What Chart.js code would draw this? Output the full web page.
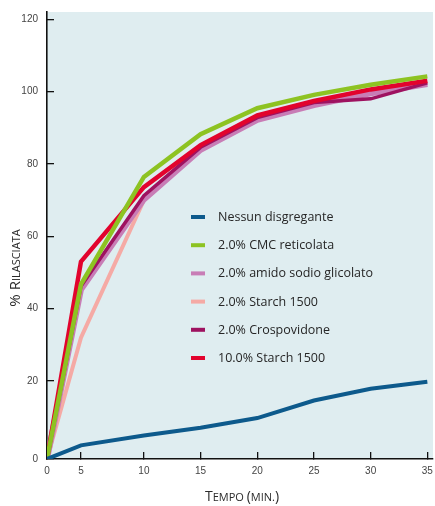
<!DOCTYPE html>
<html>
<head>
<meta charset="utf-8">
<script src="https://cdn.jsdelivr.net/npm/chart.js@4.4.0/dist/chart.umd.min.js"></script>
<style>
  html, body { margin: 0; padding: 0; background: #fff; }
  #wrap { width: 435px; height: 506px; }
</style>
</head>
<body>
<div id="wrap"><canvas id="releaseChart" width="435" height="506"></canvas></div>
<script>
// minutes
var TIME = [0, 5, 10, 15, 20, 25, 30, 35];
var X_TICKS = [0, 5, 10, 15, 20, 25, 30, 35];
var Y_TICKS = [0, 20, 40, 60, 80, 100, 120];

var LABELS = [
	'Nessun disgregante',
	'2.0% CMC reticolata',
	'2.0% amido sodio glicolato',
	'2.0% Starch 1500',
	'2.0% Crospovidone',
	'10.0% Starch 1500'
];

// % rilasciata
var NESSUN    = [0, 3.5, 6, 8, 10.5, 15, 18, 19.8];
var CMC       = [0, 46.7, 76.4, 88.2, 95.4, 99.1, 101.9, 104.2];
var AMIDO     = [0, 45.3, 70.2, 83.9, 92.2, 96.3, 99.5, 102.1];
var STARCH_2  = [0, 32, 70, 84, 92.5, 96.5, 100, 102.8];
var CROSP     = [0, 46.2, 71.2, 84.6, 92.8, 97, 98, 102.4];
var STARCH_10 = [0, 53, 73.6, 85.2, 93.4, 97.4, 100.6, 103];

// the printed axes are not evenly spaced near the origin:
// value knots and where they sit along the axis (0..1)
var X_KNOTS = [0, 5, 10, 35.5];
var X_KNOT_POS = [0, 0.088, 0.251, 1];
var Y_KNOTS = [0, 20, 122];
var Y_KNOT_POS = [0, 0.1745, 1];

class KnotScale extends Chart.LinearScale {
	valueToDecimal(v) {
		var k = this.options.knots, p = this.options.knotPos;
		for (var i = 1; i < k.length; i++) {
			if (v <= k[i] || i === k.length - 1) {
				return p[i - 1] + (v - k[i - 1]) / (k[i] - k[i - 1]) * (p[i] - p[i - 1]);
			}
		}
	}
	getPixelForValue(v) {
		if (v === null || isNaN(v)) return NaN;
		return this.getPixelForDecimal(this.valueToDecimal(v));
	}
	getValueForPixel(pixel) {
		var d = this.getDecimalForPixel(pixel);
		var k = this.options.knots, p = this.options.knotPos;
		for (var i = 1; i < p.length; i++) {
			if (d <= p[i] || i === p.length - 1) {
				return k[i - 1] + (d - p[i - 1]) / (p[i] - p[i - 1]) * (k[i] - k[i - 1]);
			}
		}
	}
}
KnotScale.id = 'knot';
KnotScale.defaults = Chart.LinearScale.defaults;
Chart.register(KnotScale);

function points(values) {
	return TIME.map(function (t, i) {
		return { x: t, y: values[i] };
	});
}

function createDataset(label, values, color, width, order) {
	return {
		label: label,
		data: points(values),
		borderColor: color,
		backgroundColor: color,
		borderWidth: width,
		pointRadius: 0,
		tension: 0,
		fill: false,
		order: order
	};
}

var plotBackground = {
	id: 'plotBackground',
	beforeDraw: function (chart) {
		var a = chart.chartArea;
		var ctx = chart.ctx;
		ctx.save();
		ctx.fillStyle = '#dfedf0';
		ctx.fillRect(a.left, a.top, a.right - a.left, a.bottom - a.top);
		ctx.restore();
	}
};

// text with fake small caps: [text, big?]
function drawParts(ctx, parts, x, y, big, small) {
	var total = 0;
	parts.forEach(function (p) {
		ctx.font = (p[1] ? big : small) + 'px "Open Sans"';
		total += ctx.measureText(p[0]).width;
	});
	var cx = x - total / 2;
	parts.forEach(function (p) {
		ctx.font = (p[1] ? big : small) + 'px "Open Sans"';
		ctx.fillText(p[0], cx, y);
		cx += ctx.measureText(p[0]).width;
	});
}

var axisTitles = {
	id: 'axisTitles',
	afterDraw: function (chart) {
		var ctx = chart.ctx;
		ctx.save();
		ctx.fillStyle = '#2b2b2b';
		ctx.textAlign = 'left';
		ctx.textBaseline = 'alphabetic';
		drawParts(ctx, [['T', true], ['EMPO ', false], ['(', true], ['MIN.', false], [')', true]], 242, 501, 14, 11);
		ctx.translate(19.5, 268);
		ctx.rotate(-Math.PI / 2);
		drawParts(ctx, [['% ', true], ['R', true], ['ILASCIATA', false]], 0, 0, 15, 11);
		ctx.restore();
	}
};

var innerLegend = {
	id: 'innerLegend',
	afterDraw: function (chart) {
		var ctx = chart.ctx;
		ctx.save();
		ctx.font = '12.5px "Open Sans"';
		ctx.textBaseline = 'middle';
		ctx.fillStyle = '#262626';
		chart.data.datasets.forEach(function (ds, i) {
			var y = 217 + i * 28.2;
			ctx.strokeStyle = ds.borderColor;
			ctx.lineWidth = 4;
			ctx.beginPath();
			ctx.moveTo(191, y);
			ctx.lineTo(205, y);
			ctx.stroke();
			ctx.fillText(ds.label, 218, y + 0.5);
		});
		ctx.restore();
	}
};

var tickFont = { family: 'Liberation Sans', size: 10 };

new Chart(document.getElementById('releaseChart').getContext('2d'), {
	type: 'line',
	data: {
		datasets: [
			createDataset(LABELS[0], NESSUN, '#0d5a8c', 4, 0),
			createDataset(LABELS[1], CMC, '#8dc322', 4.5, 1),
			createDataset(LABELS[2], AMIDO, '#c87db6', 6, 4),
			createDataset(LABELS[3], STARCH_2, '#f5aaa5', 4, 5),
			createDataset(LABELS[4], CROSP, '#9e1260', 3.5, 3),
			createDataset(LABELS[5], STARCH_10, '#e2032d', 4.5, 2)
		]
	},
	options: {
		responsive: false,
		animation: false,
		layout: { padding: { top: 12, right: 2, left: 0, bottom: 0 } },
		plugins: {
			legend: { display: false },
			tooltip: { enabled: false }
		},
		scales: {
			x: {
				type: 'knot',
				knots: X_KNOTS,
				knotPos: X_KNOT_POS,
				min: X_KNOTS[0],
				max: X_KNOTS[X_KNOTS.length - 1],
				afterBuildTicks: function (scale) {
					scale.ticks = X_TICKS.map(function (v) { return { value: v }; });
				},
				afterFit: function (scale) {
					scale.height = 47;
					scale.paddingLeft = 0;
					scale.paddingRight = 0;
				},
				grid: { drawOnChartArea: false, tickLength: -7, color: '#111', lineWidth: 1.3 },
				border: { color: '#111', width: 1.6 },
				ticks: { padding: 13, font: tickFont, color: '#444', maxRotation: 0, autoSkip: false }
			},
			y: {
				type: 'knot',
				knots: Y_KNOTS,
				knotPos: Y_KNOT_POS,
				min: Y_KNOTS[0],
				max: Y_KNOTS[Y_KNOTS.length - 1],
				afterBuildTicks: function (scale) {
					scale.ticks = Y_TICKS.map(function (v) { return { value: v }; });
				},
				afterFit: function (scale) {
					scale.width = 47;
					scale.paddingTop = 0;
					scale.paddingBottom = 0;
				},
				grid: { drawOnChartArea: false, tickLength: -7, color: '#111', lineWidth: 1.3 },
				border: { color: '#111', width: 1.6 },
				ticks: { padding: 16, font: tickFont, color: '#444' }
			}
		}
	},
	plugins: [plotBackground, axisTitles, innerLegend]
});
</script>
</body>
</html>
